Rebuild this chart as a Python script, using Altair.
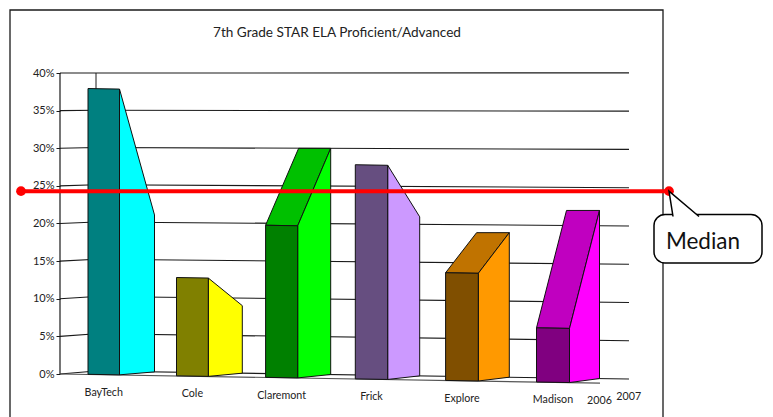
import altair as alt
import pandas as pd

# ---- data ----
schools = ["BayTech", "Cole", "Claremont", "Frick", "Explore", "Madison"]
values_2006 = [38, 13, 20, 28, 14, 7]
values_2007 = [21, 9, 30, 21, 19, 22]
years = ["2006", "2007"]
levels = [0, 5, 10, 15, 20, 25, 30, 35, 40]
median_value = 24.3
title_text = "7th Grade STAR ELA Proficient/Advanced"
note_text = "Median"

front_colors = ["#008080", "#808000", "#008000", "#664E80", "#804F00", "#800080"]
side_colors = ["#00FFFF", "#FFFF00", "#00FF00", "#CC99FF", "#FF9900", "#FF00FF"]
top_colors = ["#00B8B8", "#C0C000", "#00C000", "#9973BF", "#C07300", "#C000C0"]

# ---- layout (page pixels) and oblique projection ----
W, H = 757, 409
FONT = "Lato"
INK = "#1a1a1a"


def pct(py):
    return (374 - py) / 7.525


xs = alt.Scale(domain=[8, 8 + W], range=[0, W], nice=False, zero=False)
ys = alt.Scale(domain=[pct(8 + H), pct(8)], range=[H, 0], nice=False, zero=False)

# one shared y axis, shifted onto the front-left corner of the 3-D box
y_axis = alt.Axis(
    values=levels,
    labelExpr="datum.value + '%'",
    title=None,
    grid=False,
    domain=False,
    offset=-52,
    tickSize=4,
    tickColor=INK,
    tickWidth=1,
    labelFont=FONT,
    labelFontSize=11,
    labelColor="#222222",
    labelPadding=2,
)
X = lambda f: alt.X(f, scale=xs, axis=None)
Y = lambda f: alt.Y(f, scale=ys, axis=y_axis)


def floor_front(x):
    return 374.3 + (x - 88) * 0.01715


def rise_front(x):
    return 7.52 + (x - 88) * 0.00048


def floor_back(x):
    return 371 + (x - 96) * 0.015


def rise_back(x):
    return 7.45 + (x - 96) * 0.00038


def frame_df(points):
    return pd.DataFrame(
        [{"x": x, "y": pct(y), "o": i} for i, (x, y) in enumerate(points)]
    )


def path(points, **mark):
    return (
        alt.Chart(frame_df(points))
        .mark_line(**mark)
        .encode(x=X("x:Q"), y=Y("y:Q"), order=alt.Order("o:Q"))
    )


def label(text, x, y, size, align="center", color="#222222"):
    return (
        alt.Chart(pd.DataFrame([{"x": x, "y": pct(y), "t": text}]))
        .mark_text(font=FONT, fontSize=size, color=color, align=align, baseline="middle")
        .encode(x=X("x:Q"), y=Y("y:Q"), text="t:N")
    )


layers = []

# walls
WALL_L, CORNER, WALL_R = 60, 96, 629
for lv in levels:
    layers.append(
        path(
            [
                (WALL_L, 374 - lv * 7.525),
                (CORNER, floor_back(CORNER) - lv * rise_back(CORNER)),
                (WALL_R, floor_back(WALL_R) - lv * rise_back(WALL_R)),
            ],
            color=INK,
            strokeWidth=1.1,
        )
    )
layers.append(path([(WALL_L, 374), (WALL_L, 374 - 40 * 7.525)], color=INK, strokeWidth=1.2))
layers.append(
    path(
        [(CORNER, floor_back(CORNER)), (CORNER, floor_back(CORNER) - 40 * rise_back(CORNER))],
        color=INK,
        strokeWidth=1,
    )
)
layers.append(path([(WALL_L, 374), (600, floor_front(600))], color="#555555", strokeWidth=1.2))

# bars
for i, school in enumerate(schools):
    xl = 88 + 88.2 * i + 0.3 * i * i
    w = 31.5 + 0.3 * i
    xr = xl + w
    d = 35 - i
    f0 = floor_front(xl)
    f1 = floor_front(xr)
    t0 = f0 - values_2006[i] * rise_front(xl)
    t1 = f1 - values_2006[i] * rise_front(xl)
    bx = xr + d
    bf = floor_back(bx)
    bt = bf - values_2007[i] * rise_back(bx)
    stroke = dict(stroke="#111111", strokeWidth=1, strokeJoin="miter")
    if values_2007[i] > values_2006[i]:
        layers.append(
            path(
                [(xl, t0), (xr, t1), (bx, bt), (xl + d, bt), (xl, t0)],
                fill=top_colors[i],
                **stroke,
            )
        )
    layers.append(
        path(
            [(xr, t1), (bx, bt), (bx, bf), (xr, f1), (xr, t1)],
            fill=side_colors[i],
            **stroke,
        )
    )
    layers.append(
        path(
            [(xl, t0), (xr, t1), (xr, f1), (xl, f0), (xl, t0)],
            fill=front_colors[i],
            **stroke,
        )
    )
    layers.append(label(school, xl + w / 2, f0 + 18.5, 10.7))

layers.append(label(years[0], 599.5, 401, 10.7))
layers.append(label(years[1], 628.7, 397, 10.7))
layers.append(label(title_text, 337, 33, 13.6))

# outer frame (runs off the bottom of the page)
layers.append(
    path(
        [(10, 8 + H), (10, 10), (663, 10), (663, 8 + H)],
        color=INK,
        strokeWidth=1.3,
    )
)

# median annotation
my = 374 - median_value * 7.525
layers.append(path([(21, my), (669, my)], color="#FF0000", strokeWidth=4))
dots = pd.DataFrame({"x": [21, 669], "y": [median_value, median_value]})
layers.append(
    alt.Chart(dots)
    .mark_point(filled=True, color="#FF0000", size=95, opacity=1)
    .encode(x=X("x:Q"), y=Y("y:Q"))
)

box = pd.DataFrame([{"x": 654, "x2": 762, "y": pct(214.5), "y2": pct(263)}])
layers.append(
    alt.Chart(box)
    .mark_rect(fill="white", stroke="black", strokeWidth=1.5, cornerRadius=11)
    .encode(x=X("x:Q"), x2="x2:Q", y=Y("y:Q"), y2="y2:Q")
)
layers.append(
    path(
        [(673, 216.5), (669, my), (699, 216.5)],
        fill="white",
        stroke="black",
        strokeWidth=1.5,
    )
)
layers.append(label(note_text, 703, 241.5, 22.5, color="#111111"))

chart = (
    alt.layer(*layers)
    .properties(width=W, height=H, padding=0, autosize=alt.AutoSizeParams(type="none"), background="white")
    .configure_view(stroke=None)
)

chart.save("out.html", embed_options={"renderer": "svg", "actions": False})
